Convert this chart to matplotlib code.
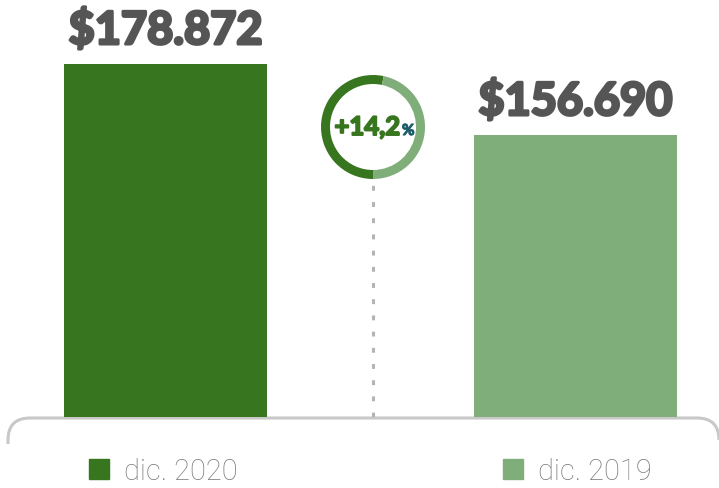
import matplotlib.pyplot as plt
from matplotlib.patches import Patch, PathPatch
from matplotlib.path import Path
import matplotlib.patheffects as pe

# datos
periodos = ['dic. 2020', 'dic. 2019']
valores = [178872, 156690]
etiquetas = ['$178.872', '$156.690']
colores = ['#37751e', '#80ae7a']

variacion = (valores[0] / valores[1] - 1) * 100

fuente_num = 'Lato'
fuente_ley = 'Roboto'

W, H = 719, 489
fig = plt.figure(figsize=(W / 100, H / 100), dpi=100)

# barras: base del eje en y=418 px, centros en 165 y 575 px
ax = fig.add_axes([0, 71 / H, 1, 418 / H])
ax.set_xlim(-165.5 / 410, (W - 165.5) / 410)
ax.set_ylim(68590, 199180)
ax.axis('off')
x = range(len(valores))
ax.bar(x, valores, width=203 / 410, color=colores)

grueso = [pe.withStroke(linewidth=2.2, foreground='#555555')]
for i, (v, t) in enumerate(zip(valores, etiquetas)):
    ax.annotate(t, (i, v), xytext=(0, 20), textcoords='offset pixels',
                ha='center', va='baseline', fontsize=32.5, color='#555555',
                family=fuente_num, fontweight='bold', path_effects=grueso)

# linea punteada desde el anillo
ax.axvline(0.506, ymin=0, ymax=(418 - 182) / 418, color='#b4b4b4', lw=2.2,
           dashes=(1.6, 3.7))

# anillo con la proporcion de ambos periodos
cx, cy, r = 373, 128, 52
axd = fig.add_axes([(cx - r) / W, 1 - (cy + r) / H, 2 * r / W, 2 * r / H])
axd.pie(valores, colors=colores, startangle=-90, counterclock=False,
        wedgeprops=dict(width=9 / r, linewidth=0))
axd.set_xlim(-1, 1)
axd.set_ylim(-1, 1)
axd.set_aspect('equal')
txt = f'+{variacion:.1f}'.replace('.', ',')
axd.annotate(txt, (0, 0), xytext=(27, -8), textcoords='offset pixels',
             ha='right', va='baseline', fontsize=18.5, color='#37751e',
             family=fuente_num, fontweight='bold',
             path_effects=[pe.withStroke(linewidth=1.4, foreground='#37751e')])
axd.annotate('%', (0, 0), xytext=(29, -8), textcoords='offset pixels',
             ha='left', va='baseline', fontsize=11, color='#1d5d6b',
             family=fuente_num, fontweight='bold',
             path_effects=[pe.withStroke(linewidth=0.8, foreground='#1d5d6b')])

# corchete inferior redondeado (coordenadas en pixeles)
axo = fig.add_axes([0, 0, 1, 1], zorder=-1)
axo.set_xlim(0, W)
axo.set_ylim(H, 0)
axo.axis('off')
verts = [(8, 445), (8, 441), (8, 419), (30, 419), (697, 419), (719, 419), (719, 441)]
codes = [Path.MOVETO, Path.LINETO, Path.CURVE3, Path.CURVE3, Path.LINETO,
         Path.CURVE3, Path.CURVE3]
axo.add_patch(PathPatch(Path(verts, codes), fill=False, edgecolor='#c8c8c8', lw=2.2))

# leyenda
handles = [Patch(color=c, label=p) for c, p in zip(colores, periodos)]
fig.legend(handles=handles, loc='lower left', bbox_to_anchor=(86 / W, 0.0),
           ncol=2, frameon=False, handlelength=0.7, handleheight=0.7,
           handletextpad=0.5, columnspacing=9.1, borderpad=0.1, borderaxespad=0,
           prop=dict(family=fuente_ley, weight='light', size=21), labelcolor='#7a7a7a')

fig.savefig('out.png', dpi=100)
